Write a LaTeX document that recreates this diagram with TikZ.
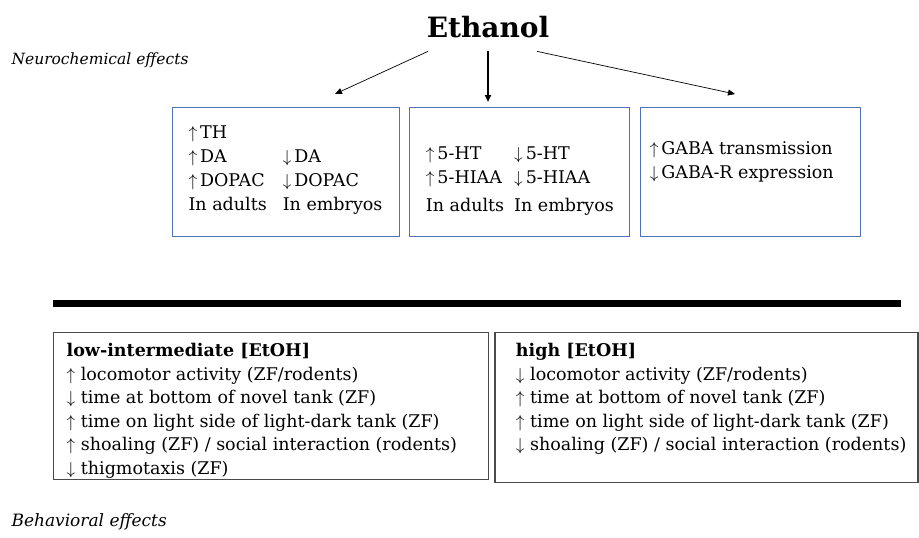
\documentclass[tikz,border=0pt]{standalone}
\usepackage{fontspec}
\setmainfont{DejaVu Serif}
\usetikzlibrary{positioning, arrows.meta}

\definecolor{boxblue}{HTML}{4F72B8}
\definecolor{boxgray}{HTML}{4A4A4A}
\newcommand{\arup}{$\uparrow$}
\newcommand{\ardn}{$\downarrow$}

\begin{document}
\begin{tikzpicture}[
    x=1pt, y=-1pt,
    topbox/.style={draw=boxblue, line width=0.9pt, minimum height=129pt, inner sep=0pt,
        font=\fontsize{17.5}{24}\selectfont},
    botbox/.style={draw=boxgray, line width=1.3pt, inner sep=0pt, anchor=north west,
        font=\fontsize{17.5}{23.5}\selectfont},
    sidelbl/.style={anchor=west, font=\fontsize{15.5}{18}\selectfont\itshape},
    ray/.style={-{Triangle[length=7pt, width=6pt]}, line width=0.7pt},
  ]
  \useasboundingbox (0,0) rectangle (919,538);

  \node (eth) at (488,27) {\fontsize{28}{32}\selectfont\bfseries Ethanol};
  \node[sidelbl] (neuro) at (8,60) {Neurochemical effects};

  % neurochemical boxes
  \node[topbox, minimum width=227pt] (da) at (285.5,171.5) {%
    \begin{tabular}{@{}l@{\hspace{16pt}}l@{}}
      \arup\,TH & \\
      \arup\,DA & \ardn\,DA \\
      \arup\,DOPAC & \ardn\,DOPAC \\
      In adults & In embryos \\[4pt]
    \end{tabular}};
  \node[topbox, minimum width=220pt, right=10pt of da] (ht) {%
    \begin{tabular}{@{}l@{\hspace{10pt}}l@{}}
      \rule{0pt}{36pt}\arup\,5-HT & \ardn\,5-HT \\
      \arup\,5-HIAA & \ardn\,5-HIAA \\[4pt]
      In adults & In embryos
    \end{tabular}};
  \node[topbox, minimum width=220pt, right=10pt of ht] (gaba) {%
    \begin{tabular}{@{}l@{\hspace{18pt}}}
      \arup\,GABA transmission \\
      \ardn\,GABA-R expression \\[20pt]
    \end{tabular}};

  \coordinate (to-da) at (335,94);
  \coordinate (to-ht) at (488,102);
  \coordinate (to-gaba) at (735,94);
  \draw[ray] ([shift={(-60pt,-10pt)}]eth.south) -- (to-da);
  \draw[ray, line width=1.8pt] ([yshift=-10pt]eth.south) -- (to-ht);
  \draw[ray] ([shift={(49pt,-10pt)}]eth.south) -- (to-gaba);

  \draw[line width=7pt] (53,303) -- (901,303);

  % behavioral boxes
  \node[botbox] (low) at (53,332) {\parbox[c][147pt][t]{435pt}{\raggedright
      \leftskip=13pt
      \vspace{11pt}
      \textbf{low-intermediate [EtOH]}\\
      \arup\ locomotor activity (ZF/rodents)\\
      \ardn\ time at bottom of novel tank (ZF)\\
      \arup\ time on light side of light-dark tank (ZF)\\
      \arup\ shoaling (ZF) / social interaction (rodents)\\
      \ardn\ thigmotaxis (ZF)}};
  \node[botbox] (high) at ([xshift=5pt]low.north east) {\parbox[c][150pt][t]{423pt}{\raggedright
      \leftskip=21pt
      \vspace{11pt}
      \textbf{high [EtOH]}\\
      \ardn\ locomotor activity (ZF/rodents)\\
      \arup\ time at bottom of novel tank (ZF)\\
      \arup\ time on light side of light-dark tank (ZF)\\
      \ardn\ shoaling (ZF) / social interaction (rodents)}};

  \node[sidelbl, font=\fontsize{17}{20}\selectfont\itshape] (behav) at (8,522) {Behavioral effects};

\end{tikzpicture}
\end{document}
